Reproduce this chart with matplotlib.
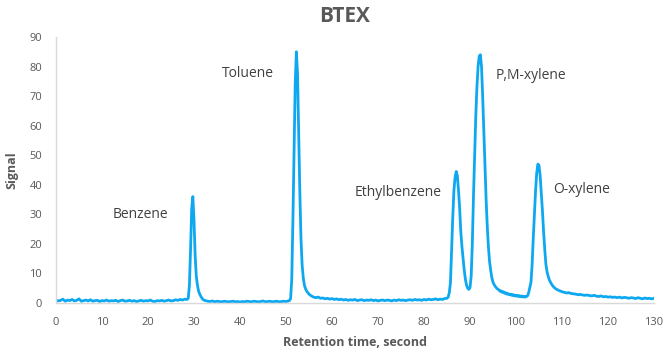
import numpy as np
import matplotlib
matplotlib.use("Agg")
import matplotlib.pyplot as plt

plt.rcParams['font.family'] = ['Open Sans', 'DejaVu Sans']

# ---- data (segments: start time, step, signal values) ----
base_start = [0.0, 0.5]
base_vals = [1.0, 0.7, 0.9, 1.3, 0.6, 1.0, 0.8, 1.2, 0.7, 0.9,
             1.4, 0.6, 0.8, 1.0, 0.7, 1.1, 0.6, 0.8, 0.9, 0.5,
             0.8, 0.7, 1.0, 0.6, 0.8, 0.7, 0.9, 0.5, 0.8, 1.0,
             0.6, 0.7, 0.9, 0.6, 0.8, 0.5, 0.7, 0.9, 0.6, 0.8,
             0.7, 1.0, 0.6, 0.5, 0.8, 0.7, 0.9, 0.6, 0.8, 1.0,
             0.7, 0.8, 1.1, 0.9, 1.2, 1.0, 1.3]

benzene_start = [28.5, 0.25]
benzene_vals = [1.2, 1.6, 6, 18, 32, 36, 28, 16, 9, 6, 4, 3, 2.2, 1.6, 1.1]

gap1_start = [32.5, 0.5]
gap1_vals = [0.8, 0.6, 0.5, 0.7, 0.4, 0.6, 0.5, 0.4, 0.6, 0.5,
             0.4, 0.5, 0.6, 0.4, 0.5, 0.3, 0.5, 0.4, 0.6, 0.5,
             0.4, 0.6, 0.5, 0.4, 0.5, 0.7, 0.4, 0.5, 0.6, 0.4,
             0.5, 0.6, 0.4, 0.5, 0.6, 0.5, 0.7]

toluene_start = [50.75, 0.25]
toluene_vals = [0.8, 1.5, 8, 28, 52, 74, 85, 78, 58, 38, 22, 13, 8.5, 6.0,
                4.8, 4.0, 3.5, 3.0, 2.7, 2.4, 2.2, 2.0]

gap2_start = [56.5, 0.5]
gap2_vals = [1.8, 2.0, 1.6, 1.7, 1.4, 1.6, 1.3, 1.5, 1.2, 1.4,
             1.1, 1.3, 1.0, 1.2, 0.9, 1.1, 1.0, 1.2, 0.8, 1.0,
             1.1, 0.8, 1.0, 0.9, 1.1, 0.8, 1.0, 0.7, 0.9, 1.0,
             0.8, 1.0, 0.9, 0.7, 1.0, 0.8, 1.1, 0.9, 1.0, 0.8,
             1.0, 1.1, 0.9, 1.2, 1.0, 1.1, 0.9, 1.2, 1.0, 1.3,
             1.1, 1.2, 1.4, 1.1, 1.3, 1.2, 1.5, 1.6]

xylene_start = [85.25, 0.25]
xylene_vals = [2.0, 3.5, 7, 18, 29, 38, 42.5, 44.5, 43, 38, 32, 24, 19, 15, 11, 8, 6, 5, 4.6,
               5.2, 9, 20, 36, 50, 63, 73, 80, 83.5, 84, 80, 70, 58, 46, 35, 26, 19, 14,
               11, 8.5, 7, 6.2, 5.6, 5.1, 4.7, 4.5, 4.0, 4.1, 3.6, 3.8, 3.3, 3.5, 3.0,
               3.2, 2.8, 3.0, 2.6, 2.9, 2.4, 2.7, 2.3, 2.6, 2.2, 2.5, 2.1, 2.4, 2.0,
               2.3, 2.0, 2.2, 2.4, 3.5]

oxylene_start = [103.25, 0.25]
oxylene_vals = [7, 13, 22, 30, 38, 44, 47, 46.5, 43, 37, 31, 24, 18, 13, 10.5, 9, 7.8,
                7, 6.3, 5.8, 5.3, 5.0, 4.7, 4.5, 4.3, 4.1, 4.0, 3.8]

tail_start = [110.5, 0.5]
tail_vals = [3.6, 3.4, 3.5, 3.2, 3.1, 3.0, 2.8, 2.9, 2.7, 2.6,
             2.7, 2.5, 2.4, 2.6, 2.3, 2.2, 2.4, 2.1, 2.2, 2.0,
             2.1, 1.9, 2.0, 1.8, 2.0, 1.7, 1.9, 1.8, 1.6, 1.8,
             1.7, 1.5, 1.8, 1.6, 1.4, 1.7, 1.5, 1.6, 1.4, 1.6]

peak_names = ["Benzene", "Toluene", "Ethylbenzene", "P,M-xylene", "O-xylene"]
label_x = [12.3, 36.0, 65.0, 95.5, 108.0]
label_y = [30.0, 77.5, 37.5, 77.0, 38.5]

x_ticks = list(range(0, 131, 10))
y_ticks = list(range(0, 91, 10))

segments = [(base_start, base_vals), (benzene_start, benzene_vals), (gap1_start, gap1_vals),
            (toluene_start, toluene_vals), (gap2_start, gap2_vals), (xylene_start, xylene_vals),
            (oxylene_start, oxylene_vals), (tail_start, tail_vals)]

t_all, s_all = [], []
for (start, step), vals in segments:
    t_all.extend(start + step * np.arange(len(vals)))
    s_all.extend(vals)
t_all = np.array(t_all)
s_all = np.array(s_all)

# ---- figure ----
fig = plt.figure(figsize=(6.65, 3.52), dpi=100)
ax = fig.add_axes([0.0842, 0.1392, 0.8993, 0.7557])

ax.plot(t_all, s_all, color='#0EA8F0', linewidth=2.0, solid_joinstyle='round')

ax.set_xlim(0, 130)
ax.set_ylim(0, 90)
ax.set_xticks(x_ticks)
ax.set_yticks(y_ticks)
ax.tick_params(axis='both', length=0, labelsize=8, labelcolor='#595959')
ax.tick_params(axis='x', pad=10)
ax.tick_params(axis='y', pad=10)

for side in ['top', 'right']:
    ax.spines[side].set_visible(False)
ax.spines['left'].set_color('#D9D9D9')
ax.spines['bottom'].set_color('#D9D9D9')
ax.spines['left'].set_linewidth(1.0)
ax.spines['bottom'].set_linewidth(1.0)

ax.set_xlabel('Retention time, second', fontsize=9, fontweight='bold', color='#595959', labelpad=6)
ax.set_ylabel('Signal', fontsize=9, fontweight='bold', color='#595959', labelpad=8)

for name, lx, ly in zip(peak_names, label_x, label_y):
    ax.text(lx, ly, name, fontsize=10, color='#404040', ha='left', va='center')

fig.text(345 / 665, 1 - 17 / 352, 'BTEX', fontsize=15, fontweight='bold', color='#595959',
         ha='center', va='center')

fig.savefig('out.png', dpi=100)
